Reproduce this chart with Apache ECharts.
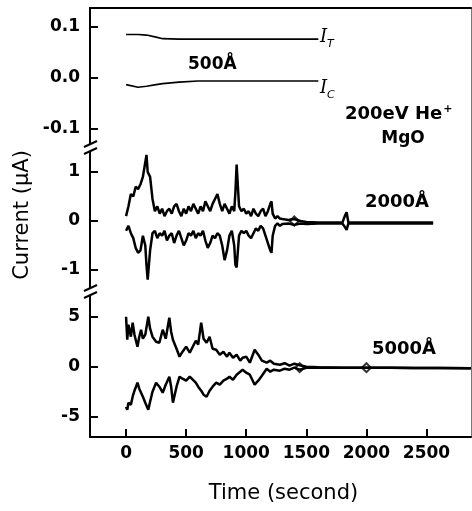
<!DOCTYPE html>
<html>
<head>
<meta charset="utf-8">
<script src="https://cdn.jsdelivr.net/npm/echarts@6.0.0/dist/echarts.min.js"></script>
<style>
  html, body { margin: 0; padding: 0; background: #fff; }
  #chart { width: 472px; height: 511px; }
</style>
</head>
<body>
<div id="chart"></div>
<script>
// Axes
const xTicks = [0, 500, 1000, 1500, 2000, 2500];
const topTicks = [-0.1, 0.0, 0.1];
const midTicks = [-1, 0, 1];
const botTicks = [-5, 0, 5];

// 500 A : I_T et I_C
const tTop = [0, 100, 170, 250, 305, 440, 600, 800, 1000, 1200, 1400, 1600];
const iT500 = [0.084, 0.084, 0.083, 0.079, 0.076, 0.075, 0.075, 0.075, 0.075, 0.075, 0.075, 0.075];
const iC500 = [-0.014, -0.019, -0.017, -0.014, -0.012, -0.009, -0.007, -0.007, -0.007, -0.007, -0.007, -0.007];

// 2000 A
const tMid = [0, 20, 40, 60, 80, 100, 120, 140, 160, 170, 180, 200, 220, 240, 260, 280, 300, 320, 340, 360,
  380, 400, 420, 440, 460, 480, 500, 520, 540, 560, 580, 600, 620, 640, 660, 680, 700, 720, 740, 760,
  780, 800, 820, 840, 860, 880, 900, 910, 920, 940, 960, 980, 1000, 1020, 1040, 1060, 1080, 1100, 1120, 1140,
  1160, 1180, 1200, 1210, 1220, 1240, 1260, 1280, 1300, 1350, 1400, 1450, 1500, 1600, 1700, 1800, 1820, 1835,
  1850, 1900, 2000, 2200, 2400, 2555];
const iT2000 = [0.1, 0.3, 0.55, 0.5, 0.7, 0.65, 0.75, 0.9, 1.2, 1.35, 1.0, 0.9, 0.45, 0.2, 0.3, 0.15, 0.25, 0.1, 0.2, 0.25,
  0.15, 0.3, 0.35, 0.2, 0.1, 0.25, 0.15, 0.3, 0.2, 0.35, 0.25, 0.15, 0.3, 0.2, 0.4, 0.3, 0.2, 0.35, 0.45, 0.55,
  0.35, 0.2, 0.35, 0.25, 0.15, 0.3, 0.2, 0.6, 1.15, 0.3, 0.2, 0.25, 0.15, 0.2, 0.1, 0.25, 0.15, 0.1, 0.2, 0.25,
  0.1, 0.2, 0.35, 0.4, 0.15, 0.05, 0.1, 0.05, 0.04, 0.02, 0.04, 0.0, -0.02, -0.03, -0.03, -0.03, 0.1, 0.18,
  -0.03, -0.03, -0.03, -0.03, -0.03, -0.03];
const iC2000 = [-0.2, -0.1, -0.25, -0.35, -0.55, -0.65, -0.6, -0.3, -0.5, -0.9, -1.2, -0.6, -0.25, -0.2, -0.35, -0.25, -0.3, -0.2, -0.4, -0.3,
  -0.25, -0.45, -0.3, -0.2, -0.35, -0.5, -0.4, -0.25, -0.3, -0.2, -0.35, -0.25, -0.3, -0.2, -0.4, -0.55, -0.45, -0.3, -0.35, -0.25,
  -0.3, -0.5, -0.8, -0.6, -0.3, -0.2, -0.5, -0.9, -0.95, -0.3, -0.2, -0.25, -0.2, -0.3, -0.35, -0.25, -0.15, -0.2, -0.1, -0.15,
  -0.3, -0.45, -0.6, -0.65, -0.3, -0.1, -0.05, -0.1, -0.06, -0.05, -0.08, -0.05, -0.06, -0.05, -0.05, -0.05, -0.12, -0.18,
  -0.05, -0.05, -0.05, -0.05, -0.05, -0.05];

// 5000 A
const tBot = [0, 10, 20, 40, 55, 70, 95, 110, 125, 140, 160, 185, 200, 220, 250, 277, 305, 330, 360, 375,
  390, 420, 445, 470, 500, 530, 555, 580, 600, 625, 645, 670, 695, 720, 750, 780, 810, 840, 860, 890,
  920, 950, 970, 1000, 1030, 1070, 1100, 1130, 1170, 1200, 1230, 1280, 1320, 1360, 1400, 1445, 1500, 1600, 1800, 2000,
  2200, 2400, 2600, 2870];
const iT5000 = [5.0, 2.7, 4.2, 3.0, 4.4, 3.2, 2.0, 3.0, 3.7, 2.8, 3.2, 5.0, 3.8, 3.0, 2.5, 2.4, 3.7, 2.8, 4.9, 3.5,
  2.7, 1.8, 1.0, 1.5, 2.0, 1.4, 2.0, 2.6, 2.2, 4.4, 2.8, 2.4, 3.0, 1.8, 1.7, 1.2, 1.5, 1.0, 1.4, 0.9,
  1.2, 0.6, 0.9, 1.0, 0.4, 1.7, 1.2, 0.6, 0.4, 0.6, 0.3, 0.2, 0.35, 0.1, 0.3, 0.15, 0.0, -0.05, -0.1, -0.1,
  -0.1, -0.12, -0.12, -0.15];
const iC5000 = [-4.0, -4.3, -3.6, -3.8, -3.0, -2.4, -1.6, -2.2, -2.6, -3.0, -3.6, -4.3, -3.5, -2.5, -1.6, -2.0, -2.6, -1.8, -1.0, -2.0,
  -3.6, -2.0, -1.0, -1.2, -1.4, -1.0, -1.3, -1.6, -2.0, -2.4, -2.8, -3.0, -2.4, -2.0, -1.6, -1.8, -1.4, -1.2, -1.0, -1.3,
  -0.8, -0.5, -0.3, -0.6, -0.8, -1.8, -1.4, -0.9, -0.2, -0.5, -0.3, -0.4, -0.2, -0.3, -0.1, -0.3, -0.1, -0.1, -0.1, -0.1,
  -0.1, -0.12, -0.12, -0.15];

// marqueurs creux
const mark2000T = [1400];
const mark2000V = [0.0];
const mark5000T = [1445, 2000];
const mark5000V = [-0.1, -0.1];

const pts = (t, v) => t.map((x, i) => [x, v[i]]);

const chart = echarts.init(document.getElementById('chart'));

const tickFont = { color: '#000', fontFamily: 'DejaVu Sans', fontWeight: 'bold', fontSize: 17 };

function yAxisLeft(grid, min, max, ticks, fmt) {
    return {
        type: 'value', gridIndex: grid, min: min, max: max, position: 'left',
        axisLine: { show: true, onZero: false, lineStyle: { color: '#000', width: 2 } },
        axisTick: { show: true, inside: true, length: 8, lineStyle: { color: '#000', width: 2 }, customValues: ticks },
        axisLabel: Object.assign({ margin: 10, customValues: ticks, formatter: fmt }, tickFont),
        splitLine: { show: false }
    };
}
function yAxisRight(grid, min, max) {
    return {
        type: 'value', gridIndex: grid, min: min, max: max, position: 'right',
        axisLine: { show: true, onZero: false, lineStyle: { color: '#777', width: 1 } },
        axisTick: { show: false }, axisLabel: { show: false }, splitLine: { show: false }
    };
}

function line(x, y, data, w) {
    return {
        type: 'line', xAxisIndex: x, yAxisIndex: y, data: data, showSymbol: false,
        lineStyle: { color: '#000', width: w }, silent: true, animation: false
    };
}
function marks(x, y, data) {
    return {
        type: 'scatter', xAxisIndex: x, yAxisIndex: y, data: data, symbol: 'diamond', symbolSize: 9,
        itemStyle: { color: '#fff', borderColor: '#000', borderWidth: 2 }, silent: true, animation: false
    };
}

const option = {
    backgroundColor: '#fff',
    animation: false,
    grid: [
        { left: 90, right: 1, top: 8, height: 140 },
        { left: 90, right: 1, top: 148, height: 144 },
        { left: 90, right: 1, top: 292, height: 145 }
    ],
    xAxis: [
        {
            type: 'value', gridIndex: 0, min: -300, max: 2870, position: 'top',
            axisLine: { show: true, onZero: false, lineStyle: { color: '#000', width: 2 } },
            axisTick: { show: false }, axisLabel: { show: false }, splitLine: { show: false }
        },
        { type: 'value', gridIndex: 1, min: -300, max: 2870, show: false },
        {
            type: 'value', gridIndex: 2, min: -300, max: 2870, position: 'bottom',
            axisLine: { show: true, onZero: false, lineStyle: { color: '#000', width: 2 } },
            axisTick: { show: true, inside: true, length: 8, lineStyle: { color: '#000', width: 2 }, customValues: xTicks },
            axisLabel: Object.assign({ margin: 8, customValues: xTicks, formatter: v => String(v) }, tickFont),
            splitLine: { show: false },
            name: 'Time (second)', nameLocation: 'middle', nameGap: 46,
            nameTextStyle: { color: '#000', fontFamily: 'DejaVu Sans', fontSize: 21, padding: [0, 0, 0, 6] }
        }
    ],
    yAxis: [
        yAxisLeft(0, -0.138, 0.136, topTicks, v => v.toFixed(1)),
        yAxisLeft(1, -1.45, 1.49, midTicks, v => String(v)),
        yAxisLeft(2, -7.03, 7.47, botTicks, v => String(v)),
        yAxisRight(0, -0.138, 0.136),
        yAxisRight(1, -1.45, 1.49),
        yAxisRight(2, -7.03, 7.47)
    ],
    series: [
        line(0, 0, pts(tTop, iT500), 1.6),
        line(0, 0, pts(tTop, iC500), 1.6),
        line(1, 1, pts(tMid, iT2000), 2.5),
        line(1, 1, pts(tMid, iC2000), 2.5),
        marks(1, 1, pts(mark2000T, mark2000V)),
        line(2, 2, pts(tBot, iT5000), 2.5),
        line(2, 2, pts(tBot, iC5000), 2.5),
        marks(2, 2, pts(mark5000T, mark5000V))
    ],
    graphic: [
        {
            type: 'text', x: 23, y: 215, rotation: Math.PI / 2,
            style: { text: 'Current (µA)', fill: '#000', font: '21px "DejaVu Sans"', align: 'center', verticalAlign: 'middle' }
        },
        {
            type: 'text', x: 320, y: 25,
            style: {
                text: '{i|I}{s|T}', fill: '#000',
                rich: {
                    i: { fontFamily: 'DejaVu Serif', fontStyle: 'italic', fontSize: 18, fill: '#000' },
                    s: { fontFamily: 'DejaVu Sans', fontStyle: 'italic', fontSize: 11, fill: '#000', padding: [14, 0, 0, 0] }
                }
            }
        },
        {
            type: 'text', x: 320, y: 76,
            style: {
                text: '{i|I}{s|C}', fill: '#000',
                rich: {
                    i: { fontFamily: 'DejaVu Serif', fontStyle: 'italic', fontSize: 18, fill: '#000' },
                    s: { fontFamily: 'DejaVu Sans', fontStyle: 'italic', fontSize: 11, fill: '#000', padding: [14, 0, 0, 0] }
                }
            }
        },
        { type: 'text', x: 188, y: 56, style: { text: '500Å', fill: '#000', font: 'bold 17px "DejaVu Sans"' } },
        {
            type: 'text', x: 345, y: 104,
            style: {
                text: '{a|200eV He}{b|+}', fill: '#000',
                rich: {
                    a: { font: 'bold 18px "DejaVu Sans"', fill: '#000' },
                    b: { font: 'bold 11px "DejaVu Sans"', fill: '#000', padding: [0, 0, 10, 1] }
                }
            }
        },
        { type: 'text', x: 403, y: 130, style: { text: 'MgO', fill: '#000', font: 'bold 17px "DejaVu Sans"', align: 'center' } },
        { type: 'text', x: 365, y: 193, style: { text: '2000Å', fill: '#000', font: 'bold 18px "DejaVu Sans"' } },
        { type: 'text', x: 372, y: 340, style: { text: '5000Å', fill: '#000', font: 'bold 18px "DejaVu Sans"' } },
        // coupures de l'axe
        { type: 'rect', shape: { x: 85, y: 144, width: 10, height: 8 }, style: { fill: '#fff' }, z: 100 },
        { type: 'line', shape: { x1: 84, y1: 147, x2: 97, y2: 141 }, style: { stroke: '#000', lineWidth: 2 }, z: 101 },
        { type: 'line', shape: { x1: 84, y1: 154, x2: 97, y2: 148 }, style: { stroke: '#000', lineWidth: 2 }, z: 101 },
        { type: 'rect', shape: { x: 85, y: 288, width: 10, height: 8 }, style: { fill: '#fff' }, z: 100 },
        { type: 'line', shape: { x1: 84, y1: 291, x2: 97, y2: 285 }, style: { stroke: '#000', lineWidth: 2 }, z: 101 },
        { type: 'line', shape: { x1: 84, y1: 298, x2: 97, y2: 292 }, style: { stroke: '#000', lineWidth: 2 }, z: 101 }
    ]
};
chart.setOption(option);
window.addEventListener('resize', () => chart.resize());
</script>
</body>
</html>
